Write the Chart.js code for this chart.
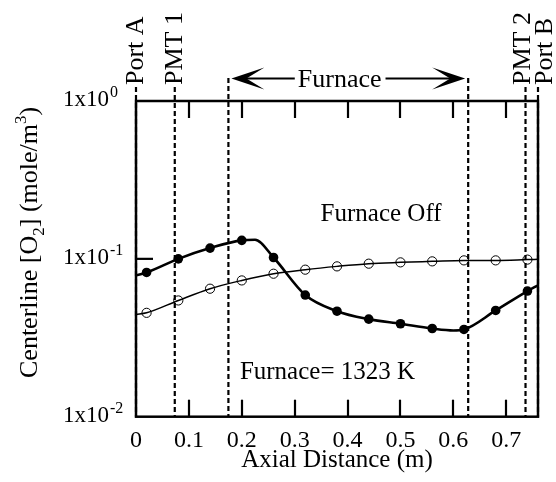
<!DOCTYPE html>
<html>
<head>
<meta charset="utf-8">
<script src="https://cdn.jsdelivr.net/npm/chart.js@4.4.1/dist/chart.umd.min.js"></script>
<style>
  html, body { margin: 0; padding: 0; background: #fff; }
  #wrap { width: 556px; height: 482px; }
</style>
</head>
<body>
<div id="wrap"><canvas id="c" width="556" height="482"></canvas></div>
<script>
// Axial stations of the measured points (m)
const stations = [0.02, 0.08, 0.14, 0.20, 0.26, 0.32, 0.38, 0.44, 0.50, 0.56, 0.62, 0.68, 0.74];
// Centerline O2 with the furnace at 1323 K (mole/m^3)
const o2FurnaceOn = [0.082, 0.100, 0.117, 0.131, 0.102, 0.059, 0.0466, 0.0415, 0.0388, 0.0362, 0.0357, 0.0471, 0.0625];
// Centerline O2 with the furnace off (mole/m^3)
const o2FurnaceOff = [0.0455, 0.0545, 0.0647, 0.073, 0.0805, 0.0854, 0.0896, 0.0932, 0.095, 0.0964, 0.0978, 0.0978, 0.0989];

// Smooth fit drawn through the furnace-on data
const fitOnX = [0, 0.02, 0.08, 0.14, 0.20, 0.225, 0.26, 0.32, 0.38, 0.44, 0.50, 0.56, 0.60, 0.62, 0.68, 0.74, 0.76];
const fitOnY = [0.0786, 0.082, 0.100, 0.117, 0.131, 0.132, 0.102, 0.059, 0.0466, 0.0415, 0.0388, 0.0362, 0.0352, 0.0357, 0.0471, 0.0625, 0.068];
// Smooth fit drawn through the furnace-off data
const fitOffX = [0, 0.02, 0.08, 0.14, 0.20, 0.26, 0.32, 0.38, 0.44, 0.50, 0.56, 0.62, 0.68, 0.74, 0.76];
const fitOffY = [0.0444, 0.0455, 0.0545, 0.0647, 0.073, 0.0805, 0.0854, 0.0896, 0.0932, 0.095, 0.0964, 0.0978, 0.0978, 0.0989, 0.0993];

// Axis ticks
const xTicks = [0, 0.1, 0.2, 0.3, 0.4, 0.5, 0.6, 0.7];
const yTicks = [1, 0.1, 0.01];
const yTickExp = ['0', '-1', '-2'];

// Stations along the tube (m)
const stationNames = ['Port A', 'PMT 1', 'PMT 2', 'Port B'];
const stationPos = [0, 0.0733, 0.7364, 0.76];
// Extent of the furnace (m)
const furnaceEnds = [0.1747, 0.628];

const SERIF = "'Liberation Serif', 'Times New Roman', serif";
const pts = (xs, ys) => xs.map((x, i) => ({ x: x, y: ys[i] }));

function arrowHead(ctx, tipX, y, dir) {
  const L = 33, W = 11, N = 18;
  ctx.beginPath();
  ctx.moveTo(tipX, y);
  ctx.lineTo(tipX - dir * L, y - W);
  ctx.lineTo(tipX - dir * (L - N), y);
  ctx.lineTo(tipX - dir * L, y + W);
  ctx.closePath();
  ctx.fill();
}

const decorations = {
  id: 'decorations',
  beforeDatasetsDraw(chart) {
    const ctx = chart.ctx, xs = chart.scales.x, a = chart.chartArea;
    ctx.save();
    ctx.strokeStyle = '#000';
    ctx.lineWidth = 2.2;
    ctx.setLineDash([5, 3]);
    stationPos.forEach(v => {
      const px = xs.getPixelForValue(v);
      ctx.beginPath(); ctx.moveTo(px, 87); ctx.lineTo(px, a.bottom); ctx.stroke();
    });
    furnaceEnds.forEach(v => {
      const px = xs.getPixelForValue(v);
      ctx.beginPath(); ctx.moveTo(px, 78); ctx.lineTo(px, a.bottom); ctx.stroke();
    });
    ctx.restore();
  },
  afterDatasetsDraw(chart) {
    const ctx = chart.ctx, xs = chart.scales.x, ys = chart.scales.y, a = chart.chartArea;
    ctx.save();
    ctx.setLineDash([]);
    ctx.fillStyle = '#000';
    ctx.strokeStyle = '#000';

    // plot frame
    ctx.lineWidth = 2.5;
    ctx.strokeRect(a.left, a.top, a.right - a.left, a.bottom - a.top);

    // inward tick marks
    ctx.lineWidth = 2.2;
    const TL = 17;
    xTicks.forEach(v => {
      if (v === 0) return;
      const px = Math.round(xs.getPixelForValue(v));
      ctx.beginPath(); ctx.moveTo(px, a.bottom); ctx.lineTo(px, a.bottom - TL); ctx.stroke();
      ctx.beginPath(); ctx.moveTo(px, a.top); ctx.lineTo(px, a.top + TL); ctx.stroke();
    });
    const py1 = ys.getPixelForValue(0.1);
    ctx.beginPath(); ctx.moveTo(a.left, py1); ctx.lineTo(a.left + TL, py1); ctx.stroke();

    // y tick labels 1x10^n
    ctx.textBaseline = 'alphabetic';
    yTicks.forEach((v, i) => {
      const py = ys.getPixelForValue(v);
      ctx.font = '23px ' + SERIF;
      ctx.textAlign = 'right';
      ctx.fillText('1x10', 109, py + 5);
      ctx.font = '16px ' + SERIF;
      ctx.textAlign = 'left';
      ctx.fillText(yTickExp[i], 110, py - 4);
    });

    // y axis title with sub/superscripts
    ctx.save();
    ctx.translate(37, 378);
    ctx.rotate(-Math.PI / 2);
    ctx.textAlign = 'left';
    let cx = 0;
    const part = (t, size, dy) => {
      ctx.font = size + 'px ' + SERIF;
      ctx.fillText(t, cx, dy);
      cx += ctx.measureText(t).width;
    };
    part('Centerline [O', 26, 0);
    part('2', 17, 7);
    part('] (mole/m', 26, 0);
    part('3', 17, -11);
    part(')', 26, 0);
    ctx.restore();

    // x axis title
    ctx.font = '25px ' + SERIF;
    ctx.textAlign = 'center';
    ctx.fillText('Axial Distance (m)', xs.getPixelForValue(0.38), 467);

    // station labels, rotated
    ctx.font = '26px ' + SERIF;
    const nudge = [-1, -1, -3, 6];
    stationNames.forEach((name, i) => {
      const px = xs.getPixelForValue(stationPos[i]) + nudge[i];
      ctx.save();
      ctx.translate(px, 85);
      ctx.rotate(-Math.PI / 2);
      ctx.textAlign = 'left';
      ctx.textBaseline = 'middle';
      ctx.fillText(name, 0, 1);
      ctx.restore();
    });

    // furnace extent arrow
    const fl = xs.getPixelForValue(furnaceEnds[0]) + 3;
    const fr = xs.getPixelForValue(furnaceEnds[1]) - 3;
    const ay = 78.5;
    ctx.font = '26px ' + SERIF;
    ctx.textAlign = 'center';
    ctx.textBaseline = 'alphabetic';
    const tx = xs.getPixelForValue(0.385);
    const tw = ctx.measureText('Furnace').width;
    ctx.fillText('Furnace', tx, 87);
    ctx.lineWidth = 2.2;
    ctx.beginPath(); ctx.moveTo(fl + 10, ay); ctx.lineTo(tx - tw / 2 - 3, ay); ctx.stroke();
    ctx.beginPath(); ctx.moveTo(tx + tw / 2 + 4, ay); ctx.lineTo(fr - 10, ay); ctx.stroke();
    arrowHead(ctx, fl, ay, -1);
    arrowHead(ctx, fr, ay, 1);

    // condition labels
    ctx.font = '25px ' + SERIF;
    ctx.textAlign = 'left';
    ctx.fillText('Furnace Off', xs.getPixelForValue(0.349), ys.getPixelForValue(0.1745));
    ctx.fillText('Furnace= 1323 K', xs.getPixelForValue(0.1964), ys.getPixelForValue(0.01733));

    ctx.restore();
  }
};

new Chart(document.getElementById('c').getContext('2d'), {
  type: 'line',
  data: {
    datasets: [
      { label: 'fit on', data: pts(fitOnX, fitOnY), borderColor: '#000', borderWidth: 2.6,
        pointRadius: 0, cubicInterpolationMode: 'monotone', fill: false },
      { label: 'fit off', data: pts(fitOffX, fitOffY), borderColor: '#000', borderWidth: 1.5,
        pointRadius: 0, cubicInterpolationMode: 'monotone', fill: false },
      { label: 'Furnace = 1323 K', data: pts(stations, o2FurnaceOn), showLine: false,
        pointRadius: 4.8, pointBackgroundColor: '#000', pointBorderColor: '#000', pointBorderWidth: 0 },
      { label: 'Furnace Off', data: pts(stations, o2FurnaceOff), showLine: false,
        pointRadius: 4.6, pointBackgroundColor: 'rgba(0,0,0,0)', pointBorderColor: '#000', pointBorderWidth: 1 }
    ]
  },
  options: {
    responsive: false,
    animation: false,
    devicePixelRatio: 1,
    layout: { padding: { left: 0, top: 101, right: 18, bottom: 0 } },
    plugins: { legend: { display: false }, tooltip: { enabled: false } },
    scales: {
      x: {
        type: 'linear', min: 0, max: 0.76,
        grid: { display: false, drawTicks: false },
        border: { display: false },
        afterBuildTicks: s => { s.ticks = xTicks.map(v => ({ value: v })); },
        afterFit: s => { s.height = 65.3; },
        ticks: { font: { family: SERIF, size: 24 }, color: '#000', padding: 10,
                 maxRotation: 0, autoSkip: false, callback: v => String(v) }
      },
      y: {
        type: 'logarithmic', min: 0.01, max: 1,
        grid: { display: false },
        border: { display: false },
        ticks: { display: false },
        afterFit: s => { s.width = 136; }
      }
    }
  },
  plugins: [decorations]
});
</script>
</body>
</html>
